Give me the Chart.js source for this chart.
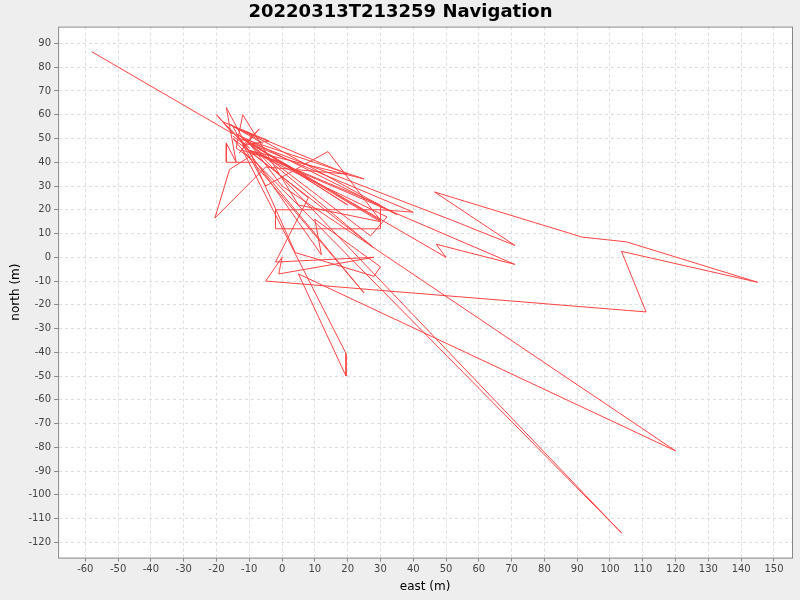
<!DOCTYPE html>
<html><head><meta charset="utf-8">
<script src="https://cdn.jsdelivr.net/npm/chart.js@4/dist/chart.umd.min.js"></script>
<style>html,body{margin:0;padding:0;background:#eeeeee;}#w{width:800px;height:600px;}</style>
</head><body><div id="w"><canvas id="c"></canvas></div>
<script>
const eastVals=[-58,-15,-20,-10,25,-12,-17,-14,-17,-17,-8,-14,-12,5,30,-10,40,30,-2,-2,30,30,-8,-16,-20.5,-5,20,-15,-5,14,30,-12,27,32,-10,4,28,30,10,12,10,-13,52,71,46.5,91.5,105,145,103.5,111,-5,0,-1,28,-2,8,-10,71,47,50,0,-12,19.5,19.5,5,120,0,-10,103.5,-8,25,-15,28,-12,20,-14,35,-11,-6,-16,-9,-13,-7,-12,-4,-18,-10,-15];
const northVals=[86.5,52,60,45,33,50,63,40,48,40,40,46,60,22,15,48,19,20,20,12,12,22,44,37,16.5,38,35,55,30,44.5,15.5,50,9,17,45,2,-8,-4,16,1,5,50,15.5,5,27.5,8.5,6.5,-10.5,2.5,-23,-10,0,-7,0,-2,25,45,-3,5.5,0,40,45,-40.5,-50,-7,-81.5,30,48,-116,40,-15,50,4,50,22,52,18,53,48,56,51,44,54,47,49,57,46,51];
const pts=eastVals.map((x,i)=>({x:x,y:northVals[i]}));
const xTicks=[],yTicks=[];
for(let v=-60;v<=150;v+=10)xTicks.push(v);
for(let v=-120;v<=90;v+=10)yTicks.push(v);
const bg={id:'bg',beforeDraw(ch){const a=ch.chartArea,c=ch.ctx;c.save();c.fillStyle='#fff';c.fillRect(a.left,a.top,a.right-a.left,a.bottom-a.top);c.restore();},
afterDraw(ch){const a=ch.chartArea,c=ch.ctx;c.save();c.strokeStyle='#888';c.lineWidth=1;c.strokeRect(a.left+0.5,a.top+0.5,a.right-a.left,a.bottom-a.top);c.restore();}};
const gridDash={color:'#dddddd',tickLength:4,tickColor:'#888'};
const bord={display:true,color:'rgba(0,0,0,0)',dash:[3,3]};
new Chart(document.getElementById('c'),{type:'scatter',
data:{datasets:[{data:pts,showLine:true,borderColor:'#ff4444',borderWidth:1,pointRadius:0,fill:false,tension:0}]},
options:{animation:false,responsive:true,maintainAspectRatio:false,
layout:{padding:{left:9,right:8,top:0,bottom:6}},
plugins:{legend:{display:false},tooltip:{enabled:false},
title:{display:true,text:'20220313T213259 Navigation',color:'#000',font:{family:'DejaVu Sans',size:18,weight:'bold'},padding:{top:2,bottom:3}}},
scales:{
x:{type:'linear',min:-68.3,max:155.5,afterBuildTicks:s=>{s.ticks=xTicks.map(v=>({value:v}));},
grid:gridDash,border:bord,
ticks:{color:'#444',font:{family:'DejaVu Sans',size:10},maxRotation:0,autoSkip:false,padding:2},
title:{display:true,text:'east (m)',color:'#000',font:{family:'DejaVu Sans',size:12},padding:{top:2,bottom:0}}},
y:{type:'linear',min:-126.4,max:97.1,afterBuildTicks:s=>{s.ticks=yTicks.map(v=>({value:v}));},
grid:gridDash,border:bord,
ticks:{color:'#444',font:{family:'DejaVu Sans',size:10},autoSkip:false,padding:3},
title:{display:true,text:'north (m)',color:'#000',font:{family:'DejaVu Sans',size:12},padding:{top:0,bottom:2}}}}},
plugins:[bg]});
</script></body></html>
